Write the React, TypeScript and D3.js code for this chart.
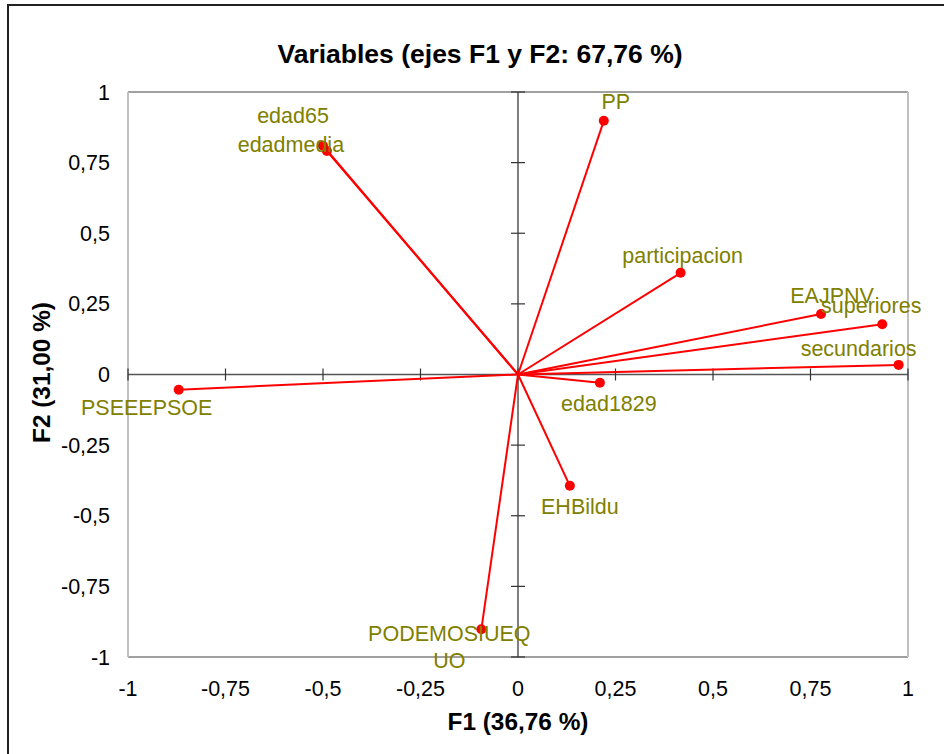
import * as d3 from 'd3';
import React from 'react';

// Variables plot (correlation circle without the circle), F1 vs F2
const variableNames = [
  "PP", "edad65", "edadmedia", "participacion", "EAJPNV", "superiores",
  "secundarios", "PSEEEPSOE", "edad1829", "EHBildu", "PODEMOSIUEQUO",
];
const f1Values = [0.22, -0.50, -0.49, 0.417, 0.777, 0.934, 0.976, -0.87, 0.21, 0.133, -0.094];
const f2Values = [0.898, 0.81, 0.791, 0.36, 0.214, 0.178, 0.034, -0.054, -0.029, -0.394, -0.902];

const tickValues = [-1, -0.75, -0.5, -0.25, 0, 0.25, 0.5, 0.75, 1];

const TITLE = "Variables (ejes F1 y F2: 67,76 %)";
const X_TITLE = "F1 (36,76 %)";
const Y_TITLE = "F2 (31,00 %)";

// label placement (pixel offsets from the point, text lines)
const labelLayout: Record<string, { dx: number; dy: number; lines: string[] }> = {
  PP: { dx: 12, dy: -12, lines: ["PP"] },
  edad65: { dx: -30, dy: -23, lines: ["edad65"] },
  edadmedia: { dx: -36, dy: 1, lines: ["edadmedia"] },
  participacion: { dx: 2, dy: -10, lines: ["participacion"] },
  EAJPNV: { dx: 11, dy: -11, lines: ["EAJPNV"] },
  superiores: { dx: -11, dy: -11, lines: ["superiores"] },
  secundarios: { dx: -40, dy: -9, lines: ["secundarios"] },
  PSEEEPSOE: { dx: -32, dy: 25, lines: ["PSEEEPSOE"] },
  edad1829: { dx: 9, dy: 28, lines: ["edad1829"] },
  EHBildu: { dx: 10, dy: 28, lines: ["EHBildu"] },
  PODEMOSIUEQUO: { dx: -32, dy: 12, lines: ["PODEMOSIUEQ", "UO"] },
};

const WIDTH = 944;
const HEIGHT = 754;
const FONT = "'Liberation Sans', Arial, sans-serif";

const fmt = (v: number) => `${v}`.replace(".", ",");

const App: React.FC = () => {
  const x = d3.scaleLinear().domain([-1, 1]).range([128, 908]);
  const y = d3.scaleLinear().domain([-1, 1]).range([657, 92]);
  const x0 = x(0);
  const y0 = y(0);

  const points = variableNames.map((name, i) => ({
    name,
    px: x(f1Values[i]),
    py: y(f2Values[i]),
  }));

  return (
    <svg
      width={WIDTH}
      height={HEIGHT}
      style={{ position: "absolute", left: 0, top: 0, background: "#fff" }}
      fontFamily={FONT}
    >
      {/* outer frame */}
      <rect x={8} y={5} width={1000} height={1000} fill="#fff" stroke="#222" strokeWidth={2} />

      <text x={480} y={63} textAnchor="middle" fontSize={26.5} fontWeight="bold" fill="#000">
        {TITLE}
      </text>

      {/* plot area border */}
      <line x1={x(-1)} x2={x(1)} y1={y(1)} y2={y(1)} stroke="#808080" strokeWidth={1.5} />
      <line x1={x(-1)} x2={x(1)} y1={y(-1)} y2={y(-1)} stroke="#808080" strokeWidth={1.5} />
      <line x1={x(-1)} x2={x(-1)} y1={y(1)} y2={y(-1)} stroke="#c0c0c0" strokeWidth={2} />
      <line x1={x(1)} x2={x(1)} y1={y(1)} y2={y(-1)} stroke="#c0c0c0" strokeWidth={2} />

      {/* central axes */}
      <line x1={x(-1)} x2={x(1)} y1={y0} y2={y0} stroke="#555" strokeWidth={1.5} />
      <line x1={x0} x2={x0} y1={y(1)} y2={y(-1)} stroke="#555" strokeWidth={1.5} />
      {tickValues.map(t => (
        <line key={`xt${t}`} x1={x(t)} x2={x(t)} y1={y0 - 6} y2={y0 + 6} stroke="#333" strokeWidth={1.2} />
      ))}
      {tickValues.map(t => (
        <line key={`yt${t}`} x1={x0 - 7} x2={x0 + 7} y1={y(t)} y2={y(t)} stroke="#333" strokeWidth={1.2} />
      ))}

      {/* tick labels */}
      {tickValues.map(t => (
        <text key={`xl${t}`} x={x(t)} y={696} textAnchor="middle" fontSize={21.5} fill="#000">
          {fmt(t)}
        </text>
      ))}
      {tickValues.map(t => (
        <text key={`yl${t}`} x={110} y={y(t)} dy="0.35em" textAnchor="end" fontSize={21.5} fill="#000">
          {fmt(t)}
        </text>
      ))}

      <text x={x0} y={730} textAnchor="middle" fontSize={24.4} fontWeight="bold" fill="#000">
        {X_TITLE}
      </text>
      <text
        transform={`translate(50,${y0 - 2}) rotate(-90)`}
        textAnchor="middle"
        fontSize={24.4}
        fontWeight="bold"
        fill="#000"
      >
        {Y_TITLE}
      </text>

      {/* vectors */}
      {points.map(p => (
        <line key={`v${p.name}`} x1={x0} y1={y0} x2={p.px} y2={p.py} stroke="#ff0000" strokeWidth={2} />
      ))}
      {points.map(p => (
        <circle key={`c${p.name}`} cx={p.px} cy={p.py} r={5} fill="#ff0000" />
      ))}

      {/* labels */}
      {points.map(p => {
        const lay = labelLayout[p.name];
        return (
          <text key={`l${p.name}`} textAnchor="middle" fontSize={21.5} fill="#808000">
            {lay.lines.map((ln, k) => (
              <tspan key={k} x={p.px + lay.dx} y={p.py + lay.dy + k * 27}>
                {ln}
              </tspan>
            ))}
          </text>
        );
      })}
    </svg>
  );
};

export default App;
